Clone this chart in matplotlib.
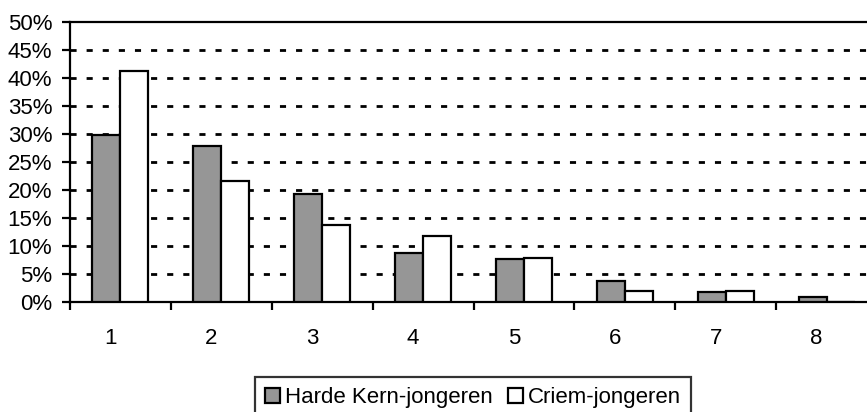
import numpy as np
import matplotlib
matplotlib.use('Agg')
from matplotlib import pyplot as plt
from matplotlib.patches import Patch
import matplotlib.transforms as mtransforms

plt.rcParams['font.family'] = ['Liberation Sans', 'DejaVu Sans']

categories = ['1', '2', '3', '4', '5', '6', '7', '8']
harde_kern = [29.8, 27.8, 19.3, 8.7, 7.7, 3.8, 1.8, 0.9]
criem = [41.2, 21.6, 13.7, 11.8, 7.8, 2.0, 2.0, 0.0]
series_names = ['Harde Kern-jongeren', 'Criem-jongeren']
y_ticks = [0, 5, 10, 15, 20, 25, 30, 35, 40, 45, 50]


def graphing():
    fig = plt.figure(figsize=(8.67, 4.12), dpi=100)
    # plot area runs past the right edge of the picture, like the original crop
    ax = fig.add_axes([70 / 867, 110 / 412, 807 / 867, 280.5 / 412])

    x = np.arange(len(categories))
    w = 0.277
    ax.bar(x - w / 2, harde_kern, w, color='#969696', edgecolor='black',
           linewidth=1.6, zorder=3)
    ax.bar(x + w / 2, criem, w, color='white', edgecolor='black',
           linewidth=1.6, zorder=3)

    ax.set_xlim(-0.5, len(categories) - 0.5)
    ax.set_ylim(0, 50)

    # dashed gridlines
    for t in y_ticks[1:-1]:
        ax.axhline(t, color='black', linewidth=2.0,
                   linestyle=(0, (2.2, 3.6)), zorder=1)

    ax.set_yticks(y_ticks)
    ax.set_yticklabels(['%d%%' % t for t in y_ticks])
    ax.set_xticks(x)
    ax.set_xticklabels(categories)
    ax.set_xticks(np.arange(len(categories) + 1) - 0.5, minor=True)

    ax.tick_params(axis='y', which='major', direction='out', length=5.8,
                   width=1.6, pad=7, labelsize=16)
    ax.tick_params(axis='x', which='major', length=0, pad=18.5, labelsize=16)
    ax.tick_params(axis='x', which='minor', direction='out', length=5.8,
                   width=1.6)

    offset = mtransforms.ScaledTranslation(-0.1, 0, fig.dpi_scale_trans)
    for lbl in ax.get_xticklabels():
        lbl.set_transform(lbl.get_transform() + offset)

    for s in ['left', 'bottom', 'top']:
        ax.spines[s].set_linewidth(1.6)
        ax.spines[s].set_color('black')
    ax.spines['right'].set_visible(False)

    handles = [Patch(facecolor='#969696', edgecolor='black', linewidth=1.6),
               Patch(facecolor='white', edgecolor='black', linewidth=1.6)]
    leg = fig.legend(handles, series_names, loc='upper left',
                     bbox_to_anchor=(255 / 867, 1 - 377 / 412), ncol=2,
                     fontsize=16, frameon=True, fancybox=False,
                     handlelength=0.68, handleheight=0.68, handletextpad=0.23,
                     columnspacing=0.68, borderpad=0.45, borderaxespad=0)
    leg.get_frame().set_edgecolor('black')
    leg.get_frame().set_linewidth(1.6)

    fig.savefig('out.png', dpi=100)


if __name__ == "__main__":
    graphing()
